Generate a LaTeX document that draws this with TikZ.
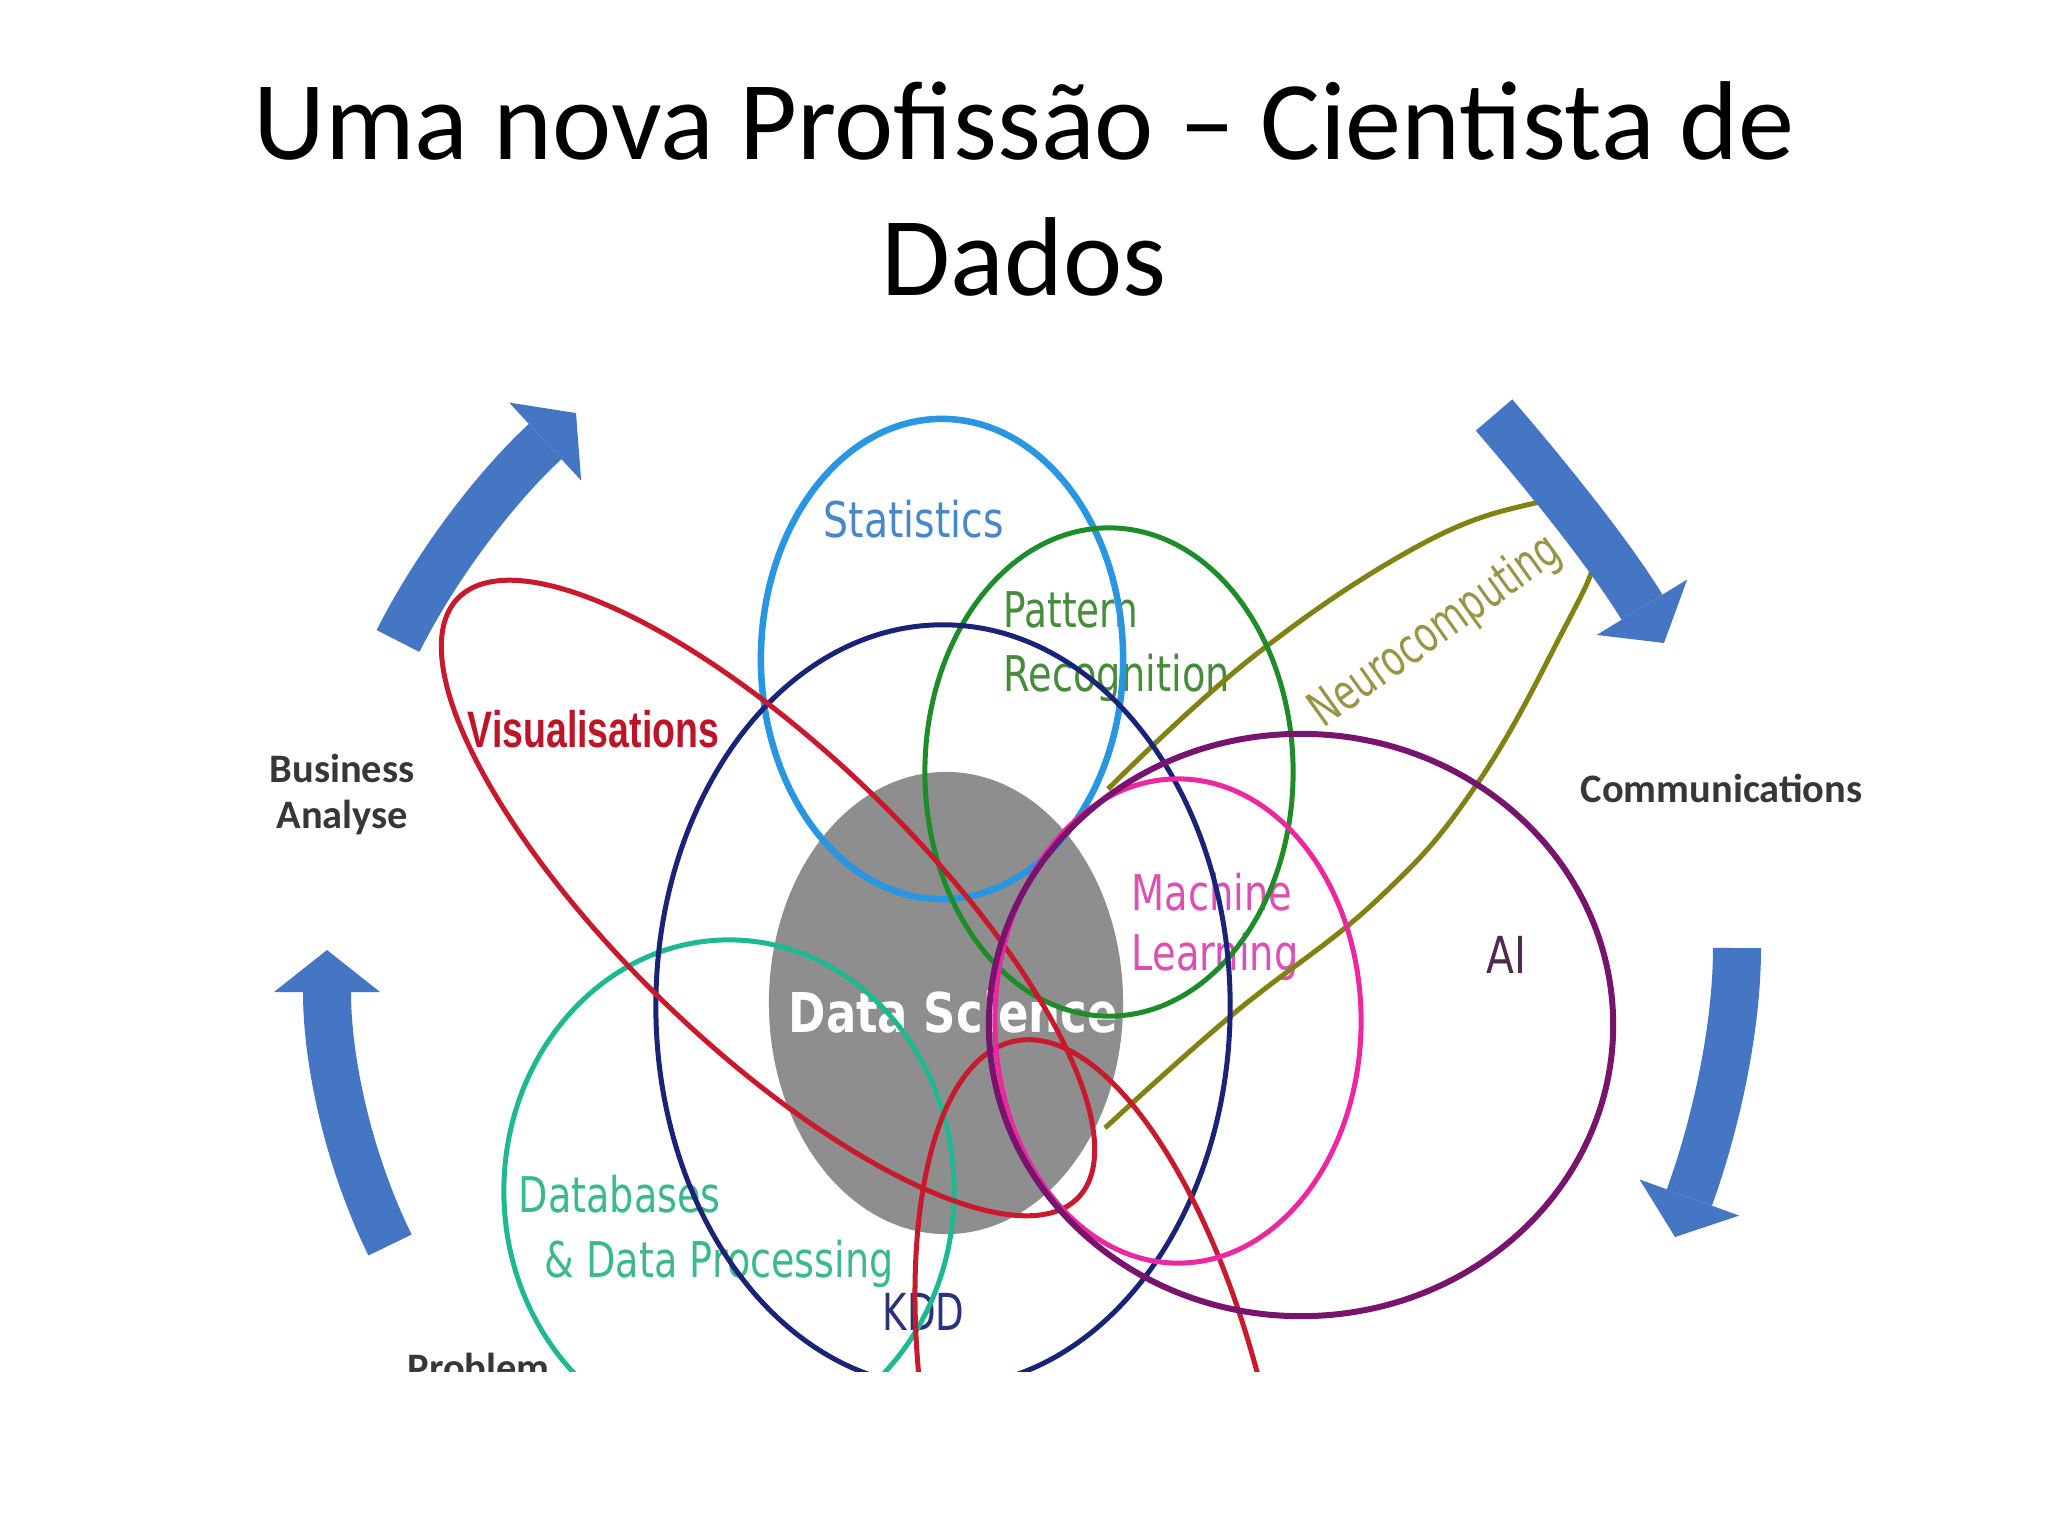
\documentclass[tikz,border=0pt]{standalone}
\usepackage{fontspec}
\setmainfont{Carlito}
\newfontfamily\dvs{DejaVu Sans}
\newfontfamily\lsans{Liberation Sans}
\usetikzlibrary{arrows.meta}
\definecolor{arrowblue}{RGB}{68,118,196}
\definecolor{statblue}{RGB}{40,150,225}
\definecolor{stattxt}{RGB}{70,135,205}
\definecolor{patgreen}{RGB}{30,140,40}
\definecolor{pattxt}{RGB}{70,140,60}
\definecolor{kddnavy}{RGB}{25,35,120}
\definecolor{kddtxt}{RGB}{40,50,125}
\definecolor{dbteal}{RGB}{30,185,145}
\definecolor{dbtxt}{RGB}{60,185,140}
\definecolor{visred}{RGB}{200,25,45}
\definecolor{vistxt}{RGB}{190,20,40}
\definecolor{aipurple}{RGB}{120,20,110}
\definecolor{aitxt}{RGB}{80,40,80}
\definecolor{mlmag}{RGB}{235,40,160}
\definecolor{mltxt}{RGB}{220,80,180}
\definecolor{neuroolive}{RGB}{130,130,20}
\definecolor{neurotxt}{RGB}{150,150,70}
\definecolor{dsgray}{RGB}{142,142,142}
\definecolor{sidetxt}{RGB}{55,55,55}
\newcommand\squash[2]{\scalebox{#1}[1]{#2}}
\tikzset{
 ring/.style={line width=0.05cm},
 bigarrow/.style={draw=arrowblue, line width=0.48cm, -{Triangle[length=0.42cm,width=1.06cm,line width=0pt]}},
 lbl/.style={inner sep=0pt, anchor=base west},
 vfont/.style={font=\dvs\fontsize{14}{16}\selectfont},
 side/.style={inner sep=0pt, anchor=base west, text=sidetxt, font=\bfseries\fontsize{11.5}{13}\selectfont},
 titlefont/.style={anchor=base, inner sep=0pt, font=\fontsize{31.9}{38}\selectfont},
}
\begin{document}
\begin{tikzpicture}[x=0.01cm,y=-0.01cm]
\useasboundingbox (0,0) rectangle (2048,1536);
\fill[white] (0,0) rectangle (2048,1536);
\node[titlefont] (title1) at (1024,159) {Uma nova Profissão – Cientista de};
\node[titlefont] (title2) at (1024,295) {Dados};
\begin{scope}
\clip (0,0) rectangle (2048,1371);
% Data Science core
\fill[dsgray] (946,1003) ellipse [x radius=1.77cm, y radius=2.31cm];
\node[lbl, text=white, font=\dvs\bfseries\fontsize{15.6}{18}\selectfont] (lds) at (788,1032) {\squash{0.82}{Data Science}};
% labels
\node[lbl, text=stattxt, vfont] (lstat) at (823,537) {\squash{0.8}{Statistics}};
\node[lbl, text=pattxt, vfont] (lpat1) at (1003,627) {\squash{0.76}{Pattern}};
\node[lbl, text=pattxt, vfont] (lpat2) at (1003,691) {\squash{0.78}{Recognition}};
\node[lbl, text=vistxt, font=\lsans\bfseries\fontsize{14.6}{17}\selectfont] (lvis) at (467,747) {\squash{0.73}{Visualisations}};
\node[inner sep=0pt, text=neurotxt, font=\dvs\fontsize{14}{16}\selectfont, rotate=35.5] (lneuro) at (1436,632) {\squash{0.72}{Neurocomputing}};
\node[lbl, text=mltxt, vfont] (lml1) at (1131,910) {\squash{0.78}{Machine}};
\node[lbl, text=mltxt, vfont] (lml2) at (1131,970) {\squash{0.78}{Learning}};
\node[lbl, text=aitxt, font=\dvs\fontsize{14.5}{16}\selectfont] (lai) at (1486,973) {\squash{0.8}{AI}};
\node[lbl, text=dbtxt, vfont] (ldb1) at (518,1212) {\squash{0.775}{Databases}};
\node[lbl, text=dbtxt, vfont] (ldb2) at (544,1277) {\squash{0.775}{\& Data Processing}};
\node[lbl, text=kddtxt, font=\dvs\fontsize{14.5}{16}\selectfont] (lkdd) at (882,1330) {\squash{0.73}{KDD}};
\node[side] (lbus1) at (269,782) {Business};
\node[side] (lbus2) at (276,828) {Analyse};
\node[side] (lcom) at (1580,802) {Communications};
\node[side] (lprob) at (407,1381) {Problem};
% rings
\draw[ring, neuroolive] plot[smooth, tension=0.7] coordinates {(1108,789) (1254,656) (1420,545) (1535,503) (1567,509) (1587,532) (1595,559) (1565,627) (1477,784) (1377,900) (1232,1015) (1105,1128)};
\draw[ring, dbteal] (729,1191) ellipse [x radius=2.25cm, y radius=2.51cm];
\draw[ring, statblue, line width=0.065cm] (942,659) ellipse [x radius=1.81cm, y radius=2.40cm];
\draw[ring, patgreen] (1109,772) ellipse [x radius=1.84cm, y radius=2.44cm];
\draw[ring, kddnavy] (943,1006) ellipse [x radius=2.87cm, y radius=3.81cm];
\draw[ring, visred, rotate around={-44:(768,898)}] (768,898) ellipse [x radius=4.31cm, y radius=1.47cm];
\draw[ring, visred, rotate around={12:(1104,1463)}] (1104,1463) ellipse [x radius=1.70cm, y radius=4.31cm];
\draw[ring, mlmag] (1178,1021) ellipse [x radius=1.83cm, y radius=2.42cm];
\draw[ring, aipurple, line width=0.06cm] (1301,1025) ellipse [x radius=3.12cm, y radius=2.91cm];
\end{scope}
% cycle arrows
\coordinate (tlT) at (398,641); \coordinate (tlP) at (576,413);
\coordinate (trT) at (1494,415); \coordinate (trP) at (1664,643);
\coordinate (rT) at (1737,948); \coordinate (rP) at (1675,1237);
\coordinate (lT) at (390,1245); \coordinate (lP) at (327,950);
\draw[bigarrow] (tlT) .. controls (438,562) and (497,486) .. (tlP);
\draw[bigarrow] (trT) .. controls (1550,480) and (1610,555) .. (trP);
\draw[bigarrow] (rT) .. controls (1737,1028) and (1716,1124) .. (rP);
\draw[bigarrow] (lT) .. controls (348,1159) and (327,1061) .. (lP);
\end{tikzpicture}
\end{document}
